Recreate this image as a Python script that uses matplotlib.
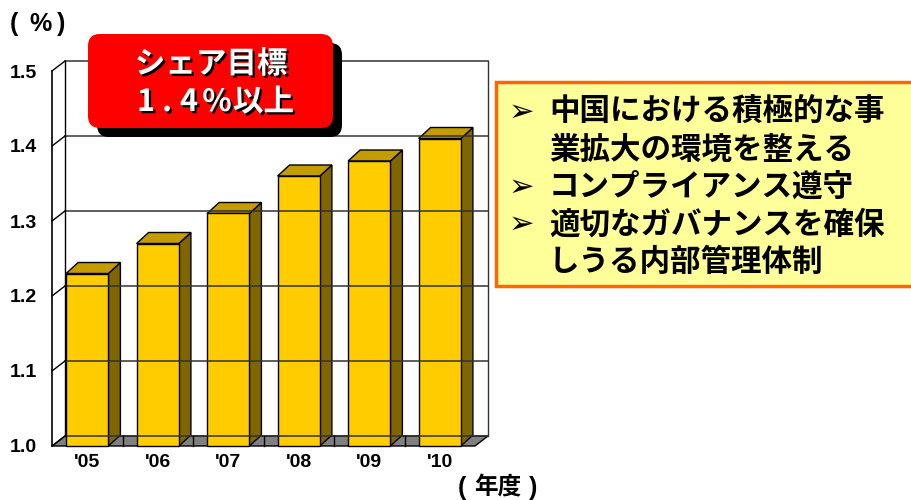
import matplotlib
matplotlib.use("agg")
import matplotlib.pyplot as plt
import matplotlib.patheffects as pe
from matplotlib.patches import Polygon, FancyBboxPatch, Rectangle

plt.rcParams['font.family'] = ['Noto Sans CJK JP', 'DejaVu Sans']

# data
years = ["'05", "'06", "'07", "'08", "'09", "'10"]
share = [1.23, 1.27, 1.31, 1.36, 1.38, 1.41]
yticks = [1.0, 1.1, 1.2, 1.3, 1.4, 1.5]
target_title = "シェア目標"
target_value = ["1", ".", "4", "%"]
target_suffix = "以上"
bullets = [("➢", "中国における積極的な事"),
           ("", "業拡大の環境を整える"),
           ("➢", "コンプライアンス遵守"),
           ("➢", "適切なガバナンスを確保"),
           ("", "しうる内部管理体制")]

# 3d look
wdx, wdy = 13 / 70.5, 10 / 750.0   # wall depth
bdx, bdy = 12 / 70.5, 11 / 750.0   # bar depth
bw = 0.6

front = '#FFCC00'
top = '#C49C00'
side = '#806600'

fig = plt.figure(figsize=(9.11, 5.0), dpi=100)
ax = fig.add_axes([52 / 911, 54 / 500, 423 / 911, 375 / 500])
ax.set_xlim(0, len(years))
ax.set_ylim(yticks[0], yticks[-1])
for s in ax.spines.values():
    s.set_visible(False)
ax.patch.set_visible(False)

n = len(years)
y0, y1 = yticks[0], yticks[-1]

# back wall + gridlines
ax.add_patch(Polygon([(wdx, y0 + wdy), (n + wdx, y0 + wdy), (n + wdx, y1 + wdy), (wdx, y1 + wdy)],
                     closed=True, fc='white', ec='none', clip_on=False))
for v in yticks:
    ax.plot([wdx, n + wdx], [v + wdy, v + wdy], color='#333333', lw=1.1, clip_on=False)
    ax.plot([0, wdx], [v, v + wdy], color='black', lw=1, clip_on=False)
ax.plot([wdx, wdx], [y0 + wdy, y1 + wdy], color='black', lw=1, clip_on=False)
ax.plot([n + wdx, n + wdx], [y0 + wdy, y1 + wdy], color='#333333', lw=1, clip_on=False)
ax.plot([0, 0], [y0, y1], color='black', lw=1.2, clip_on=False)

# floor
ax.add_patch(Polygon([(0, y0), (n, y0), (n + wdx, y0 + wdy), (wdx, y0 + wdy)],
                     closed=True, fc='#808080', ec='black', lw=1, clip_on=False))
for i in range(1, n):
    ax.plot([i, i], [y0, y0 + wdy], color='black', lw=1, clip_on=False)

# bars
for i, v in enumerate(share):
    x0 = i + (1 - bw) / 2
    x1 = x0 + bw
    ax.add_patch(Polygon([(x1, y0), (x1 + bdx, y0 + bdy), (x1 + bdx, v + bdy), (x1, v)],
                         closed=True, fc=side, ec='black', lw=1, clip_on=False))
    ax.add_patch(Polygon([(x0, v), (x1, v), (x1 + bdx, v + bdy), (x0 + bdx, v + bdy)],
                         closed=True, fc=top, ec='black', lw=1, clip_on=False))
    ax.add_patch(Rectangle((x0, y0), bw, v - y0, fc=front, ec='black', lw=1, clip_on=False))

ax.set_yticks(yticks)
ax.set_yticklabels([f"{v:.1f}" for v in yticks], fontfamily='Liberation Sans',
                   fontweight='bold', fontsize=14)
ax.set_xticks([i + 0.5 for i in range(n)])
ax.set_xticklabels(years, fontfamily='Liberation Sans', fontweight='bold', fontsize=14)
ax.tick_params(axis='y', length=0, pad=11)
ax.tick_params(axis='x', length=0, pad=6)

# overlay in pixel coords for the callouts
ov = fig.add_axes([0, 0, 1, 1])
ov.set_xlim(0, 911)
ov.set_ylim(500, 0)
ov.axis('off')
ov.patch.set_visible(False)

# unit labels with wide brackets
for xx, s in [(14, "("), (40, "%"), (61, ")")]:
    ov.text(xx, 24, s, fontsize=18, fontweight='bold', ha='center', va='center',
            family=['Liberation Sans'])
ov.text(462, 488, "(", fontsize=18, fontweight='bold', ha='center', va='center', family=['Liberation Sans'])
ov.text(498, 487, "年度", fontsize=17, fontweight='bold', ha='center', va='center')
ov.text(533, 488, ")", fontsize=18, fontweight='bold', ha='center', va='center', family=['Liberation Sans'])

# red target box
ov.add_patch(FancyBboxPatch((97, 43), 245, 94, boxstyle="round,pad=0,rounding_size=12",
                            fc='black', ec='none'))
ov.add_patch(FancyBboxPatch((88, 34), 245, 94, boxstyle="round,pad=0,rounding_size=12",
                            fc='#FF0000', ec='none'))
shadow = [pe.SimplePatchShadow(offset=(1.6, -1.6), shadow_rgbFace='black', alpha=1), pe.Normal()]
ov.text(211, 64, target_title, fontsize=22, fontweight='bold', color='white',
        ha='center', va='center', path_effects=shadow)
for xx, ch in zip([146, 167, 189, 217], target_value):
    ov.text(xx, 102, ch, fontsize=22, fontweight='bold', color='white',
            ha='center', va='center', path_effects=shadow)
ov.text(233, 102, target_suffix, fontsize=22, fontweight='bold', color='white',
        ha='left', va='center', path_effects=shadow)

# yellow text box
ov.add_patch(Rectangle((496, 82), 430, 204, fc='#FFFF99', ec='#FF6600', lw=2.5))
for k, (b, t) in enumerate(bullets):
    yy = 112 + 37.5 * k
    if b:
        ov.text(521, yy, b, fontsize=22, fontweight='bold', ha='center', va='center',
                family=['DejaVu Sans'])
    ov.text(549, yy, t, fontsize=22, fontweight='bold', ha='left', va='center')

fig.savefig('out.png', dpi=100)
